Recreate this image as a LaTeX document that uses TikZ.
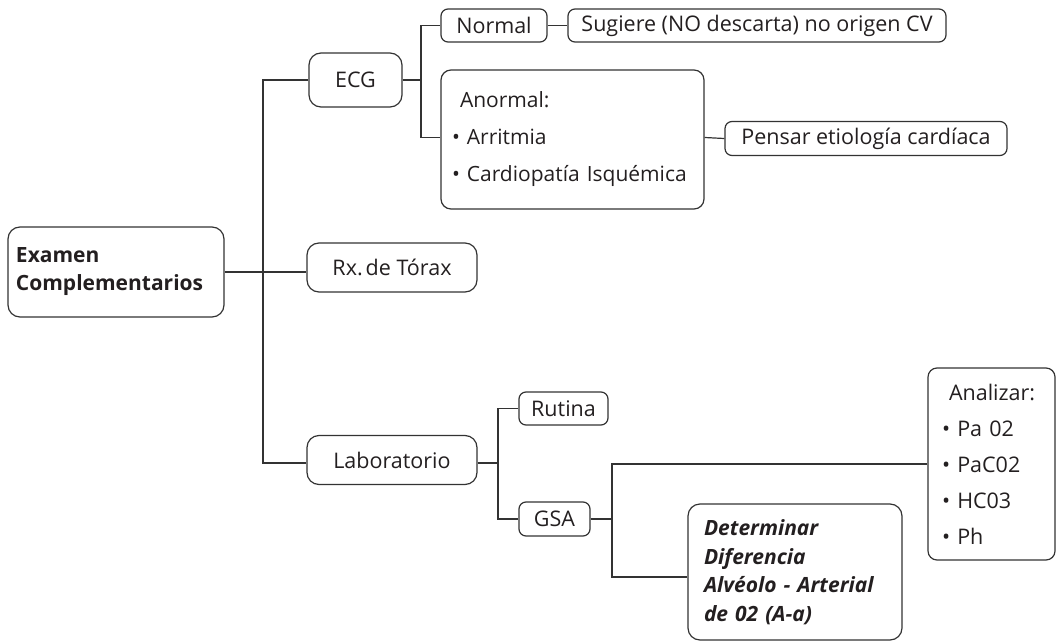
\documentclass[tikz,border=0pt]{standalone}
\usepackage{fontspec}
\setmainfont{Open Sans}
\definecolor{lineC}{HTML}{333333}
\definecolor{textC}{HTML}{231F20}
\begin{document}
\begin{tikzpicture}[x=1pt,y=-1pt,
  box/.style={draw=lineC, line width=1.2pt, rounded corners=7pt, inner sep=0pt,
    text=textC, font=\fontsize{21.5}{25}\selectfont},
  link/.style={draw=lineC, line width=1.2pt}]
\useasboundingbox (0,0) rectangle (1057,642);

% boxes
\node[box, rounded corners=12pt, minimum width=216pt, minimum height=90pt,
  text width=200pt, align=left, font=\bfseries\fontsize{21}{28}\selectfont]
  (main) at (116,272) {Examen\\Complementarios};
\node[box, rounded corners=12pt, minimum width=93pt, minimum height=54pt] (ecg) at (355.5,80) {ECG};
\node[box, minimum width=106pt, minimum height=33pt] (normal) at (494,25.5) {Normal};
\node[box, minimum width=378pt, minimum height=33pt] (sug) at (757,25.5) {Sugiere (NO descarta) no origen CV};
\node[box, rounded corners=10pt, minimum width=263pt, minimum height=139pt,
  text width=241pt, align=left, font=\fontsize{21}{37}\selectfont]
  (anormal) at (572.5,139.5) {\hspace*{8pt}Anormal:\\• Arritmia\\• Cardiopatía Isquémica};
\node[box, minimum width=282pt, minimum height=34pt] (pensar) at (866,138.5) {Pensar etiología cardíaca};
\node[box, rounded corners=12pt, minimum width=170pt, minimum height=49pt] (rx) at (392,267.5) {Rx.\kern3pt de Tórax};
\node[box, rounded corners=12pt, minimum width=170pt, minimum height=49pt] (lab) at (392,460) {Laboratorio};
\node[box, minimum width=89pt, minimum height=33pt] (rutina) at (563.5,408.5) {Rutina};
\node[box, minimum width=71pt, minimum height=34pt] (gsa) at (554.5,519) {GSA};
\node[box, rounded corners=9pt, minimum width=127pt, minimum height=192pt,
  text width=99pt, align=left, font=\fontsize{21.5}{36}\selectfont]
  (analizar) at (991.5,464) {\hspace*{7pt}Analizar:\\• Pa 02\\• PaC02\\• HC03\\• Ph};
\node[box, rounded corners=12pt, minimum width=214pt, minimum height=136pt,
  text width=182pt, align=left, font=\bfseries\itshape\fontsize{21}{28.5}\selectfont]
  (det) at (795,572) {Determinar\\Diferencia\\\mbox{Alvéolo - Arterial}\\de 02 (A-a)};

% junction points
\coordinate (tr) at (263,80);
\coordinate (ej) at (421,80);
\coordinate (lj) at (498,463);
\coordinate (gj) at (612,519);

% connectors
\draw[link] (main.east) -- (rx.west |- main.east);
\draw[link] (ecg.west) -- (tr) |- ([yshift=-3pt]lab.west);
\draw[link] (ecg.east) -- (ej);
\draw[link] (normal.west) -| (ej) |- ([yshift=2pt]anormal.west);
\draw[link] (normal.east) -- (sug.west);
\draw[link] ([yshift=2pt]anormal.east) -- (pensar.west);
\draw[link] ([yshift=-3pt]lab.east) -- (lj);
\draw[link] (rutina.west) -| (lj) |- (gsa.west);
\draw[link] (gsa.east) -- (gj);
\draw[link] (analizar.west) -| (gj) |- ([yshift=-5pt]det.west);
\end{tikzpicture}
\end{document}
